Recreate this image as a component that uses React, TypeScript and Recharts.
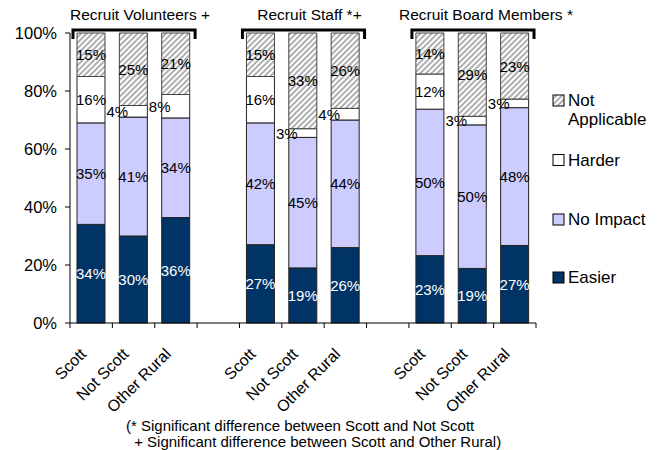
import { BarChart, Bar, XAxis, YAxis, LabelList } from "recharts";

const groups = ["Recruit Volunteers +", "Recruit Staff *+", "Recruit Board Members *"];
const places = ["Scott", "Not Scott", "Other Rural"];

// percent per bar, in order: group 1 (Scott, Not Scott, Other Rural), group 2, group 3
const easier = [34, 30, 36, 27, 19, 26, 23, 19, 27];
const noImpact = [35, 41, 34, 42, 45, 44, 50, 50, 48];
const harder = [16, 4, 8, 16, 3, 4, 12, 3, 3];
const notApplicable = [15, 25, 21, 15, 33, 26, 14, 29, 23];

const yTicks = [0, 0.2, 0.4, 0.6, 0.8, 1];
const noteLines = [
  "(* Significant difference between Scott and Not Scott",
  " + Significant difference between Scott and Other Rural)",
];

const NAVY = "#003366";
const LILAC = "#CCCCFF";

// one blank slot between the groups
const rows: any[] = [];
groups.forEach((g, gi) => {
  if (gi > 0) rows.push({ key: "gap" + gi, label: "" });
  places.forEach((p, pi) => {
    const i = gi * 3 + pi;
    rows.push({
      key: gi + "-" + p,
      label: p,
      easier: easier[i],
      noImpact: noImpact[i],
      harder: harder[i],
      notApplicable: notApplicable[i],
    });
  });
});

const W = 663;
const H = 450;
const LEFT = 70;
const RIGHT = 536;
const TOP = 33;
const BOTTOM = 323;
const GAP = 0.165;
const step = (RIGHT - LEFT) / rows.length;
const barW = step * (1 - 2 * GAP);
const FONT = 'Arial, "Liberation Sans", sans-serif';

function XTick({ x, y, payload, index }: any) {
  const row = rows.find((r) => r.key === payload.value);
  const ax = x - 4;
  const ay = y + 32;
  return (
    <g>
      <line x1={x - step / 2} x2={x - step / 2} y1={y} y2={y + 5} stroke="#000" />
      {index === rows.length - 1 && (
        <line x1={x + step / 2} x2={x + step / 2} y1={y} y2={y + 5} stroke="#000" />
      )}
      <text
        x={ax}
        y={ay}
        textAnchor="end"
        fontSize={16}
        fill="#000"
        transform={`rotate(-45 ${ax} ${ay})`}
      >
        {row ? row.label : ""}
      </text>
    </g>
  );
}

const segLabel = (color: string) => (p: any) => {
  const { x, y, width, height, value } = p;
  if (value == null) return null;
  // small segments get their label pushed to the left, like the original
  const dx = value < 10 ? -16 : 0;
  return (
    <text
      x={x + width / 2 + dx}
      y={y + height / 2}
      fill={color}
      fontSize={15}
      textAnchor="middle"
      dominantBaseline="central"
    >
      {value}%
    </text>
  );
};

const legendItems = [
  { name: ["Not", "Applicable"], fill: "url(#hatch2)", base: 106 },
  { name: ["Harder"], fill: "#fff", base: 165.5 },
  { name: ["No Impact"], fill: LILAC, base: 225 },
  { name: ["Easier"], fill: NAVY, base: 283 },
];

const titleShift = [6, 6, 13];

function Hatch({ id }: { id: string }) {
  return (
    <pattern id={id} width="4" height="4" patternUnits="userSpaceOnUse" patternTransform="rotate(45)">
      <rect width="4" height="4" fill="#fff" />
      <line x1="1" y1="0" x2="1" y2="4" stroke="#a6a6a6" strokeWidth="1.8" />
    </pattern>
  );
}

function Overlay() {
  const barLeft = (ci: number) => LEFT + step * (ci + 0.5) - barW / 2;
  return (
    <svg
      width={W}
      height={H}
      style={{ position: "absolute", left: 0, top: 0, pointerEvents: "none" }}
    >
      <defs>
        <Hatch id="hatch2" />
      </defs>

      {/* group brackets + titles */}
      {groups.map((g, gi) => {
        const l = barLeft(gi * 4) - 4;
        const r = barLeft(gi * 4 + 2) + barW + 5;
        return (
          <g key={g}>
            <path d={`M${l},39 L${l},30 L${r},30 L${r},39`} fill="none" stroke="#000" strokeWidth={3} />
            <text x={(l + r) / 2 + titleShift[gi]} y={20} textAnchor="middle" fontSize={15.5} fill="#000">
              {g}
            </text>
          </g>
        );
      })}

      {/* legend */}
      {legendItems.map((it) => (
        <g key={it.name[0]}>
          <rect x={553} y={it.base - 11} width={11} height={11} fill={it.fill} stroke="#000" strokeWidth={1} />
          {it.name.map((t, i) => (
            <text key={t} x={568} y={it.base + i * 19} fontSize={17} fill="#000">
              {t}
            </text>
          ))}
        </g>
      ))}

      {/* note */}
      {noteLines.map((t, i) => (
        <text key={i} x={126 + i * 4} y={431 + i * 16} fontSize={15} fill="#000" style={{ whiteSpace: "pre" }}>
          {t}
        </text>
      ))}
    </svg>
  );
}

export default function App() {
  return (
    <div style={{ position: "absolute", left: 0, top: 0, width: W, height: H, fontFamily: FONT, background: "#fff" }}>
      <BarChart
        width={W}
        height={H}
        data={rows}
        stackOffset="expand"
        barCategoryGap={`${GAP * 100}%`}
        margin={{ top: TOP, right: W - RIGHT, bottom: H - BOTTOM - 100, left: LEFT - 60 }}
      >
        <defs>
          <Hatch id="hatch" />
        </defs>
        <XAxis
          dataKey="key"
          interval={0}
          height={100}
          tickLine={false}
          tickSize={0}
          tickMargin={0}
          axisLine={{ stroke: "#000" }}
          tick={<XTick />}
        />
        <YAxis
          width={60}
          domain={[0, 1]}
          ticks={yTicks}
          tickFormatter={(v) => Math.round(v * 100) + "%"}
          tickSize={5}
          tickMargin={8}
          axisLine={{ stroke: "#000" }}
          tickLine={{ stroke: "#000" }}
          tick={{ fill: "#000", fontSize: 16.5 }}
        />
        <Bar dataKey="easier" stackId="a" fill={NAVY} stroke="#222" strokeWidth={1} isAnimationActive={false}>
          <LabelList dataKey="easier" content={segLabel("#fff")} />
        </Bar>
        <Bar dataKey="noImpact" stackId="a" fill={LILAC} stroke="#222" strokeWidth={1} isAnimationActive={false}>
          <LabelList dataKey="noImpact" content={segLabel("#000")} />
        </Bar>
        <Bar dataKey="harder" stackId="a" fill="#fff" stroke="#222" strokeWidth={1} isAnimationActive={false}>
          <LabelList dataKey="harder" content={segLabel("#000")} />
        </Bar>
        <Bar dataKey="notApplicable" stackId="a" fill="url(#hatch)" stroke="#444" strokeWidth={1} isAnimationActive={false}>
          <LabelList dataKey="notApplicable" content={segLabel("#000")} />
        </Bar>
      </BarChart>
      <Overlay />
    </div>
  );
}
